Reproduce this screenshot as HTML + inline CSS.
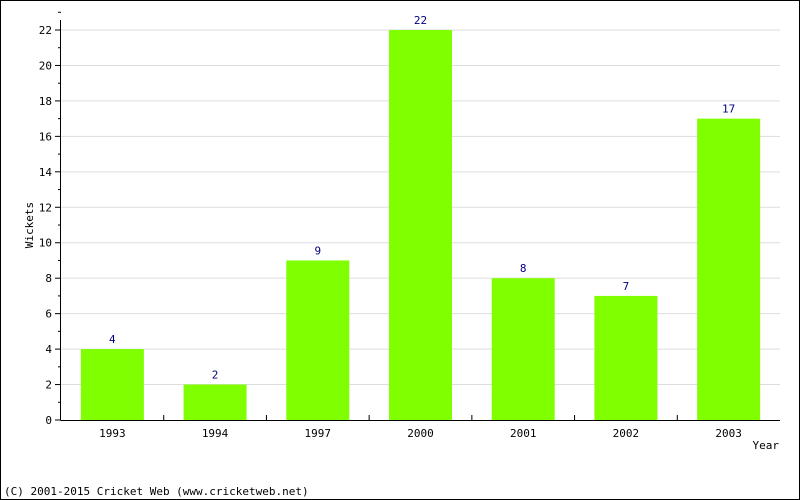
<!DOCTYPE html>
<html><head><style>body{margin:0}svg{display:block}text{font-family:"DejaVu Sans Mono","Liberation Mono",monospace;font-size:11px}</style></head>
<body>
<svg id="c" width="800" height="500">
<rect x="0.5" y="0.5" width="799" height="499" fill="#fff" stroke="#000"/>
<g id="g"></g>
<text x="33" y="225" transform="rotate(-90 33 225)" text-anchor="middle">Wickets</text>
<text x="779" y="449" text-anchor="end">Year</text>
<text x="4" y="495">(C) 2001-2015 Cricket Web (www.cricketweb.net)</text>
</svg>
<script>
const categories=["1993","1994","1997","2000","2001","2002","2003"];
const wickets=[4,2,9,22,8,7,17];
const yTicks=[0,2,4,6,8,10,12,14,16,18,20,22];
const L=61,R=780,T=30,B=420,MAX=22;
const y=v=>B-(B-T)*v/MAX;
const bw=(R-L)/categories.length;
const x=i=>L+bw*i;
const g=document.getElementById('g'),NS="http://www.w3.org/2000/svg";
function mk(t,a,txt){const e=document.createElementNS(NS,t);for(const k in a)e.setAttribute(k,a[k]);if(txt!=null)e.textContent=txt;g.appendChild(e);return e;}
yTicks.forEach(v=>{
 if(v>0){const l=mk('line',{x1:L,x2:R,y1:y(v),y2:y(v),stroke:'#ddd'});
 
 }
 const tk=mk('line',{x1:L-6,x2:L,y1:y(v),y2:y(v),stroke:'#000'});
 
 
 const m=mk('line',{x1:L-3,x2:L,y1:y(v+1),y2:y(v+1),stroke:'#000'});
 
 
 const t=mk('text',{x:L-9,y:y(v)+4,'text-anchor':'end'},v);
 
 
});
categories.forEach((c,i)=>{
 const v=wickets[i],cx=x(i)+bw/2;
 const r=mk('rect',{x:cx-31.5,y:y(v),width:63,height:B-y(v),fill:'#80ff00'});
 
 
 const vl=mk('text',{x:cx,y:y(v)-6,'text-anchor':'middle',fill:'#000080'},v);
 
 
 const xl=mk('text',{x:cx,y:437,'text-anchor':'middle'},c);
 
 
 if(i>0){const tk=mk('line',{x1:x(i),x2:x(i),y1:B,y2:B-5,stroke:'#000'});
 
 }
});
const ya=mk('line',{x1:L-0.5,x2:L-0.5,y1:T-10,y2:B,stroke:'#000'});


const xa=mk('line',{x1:L-0.5,x2:R,y1:B+0.5,y2:B+0.5,stroke:'#000'});


</script>
</body></html>
